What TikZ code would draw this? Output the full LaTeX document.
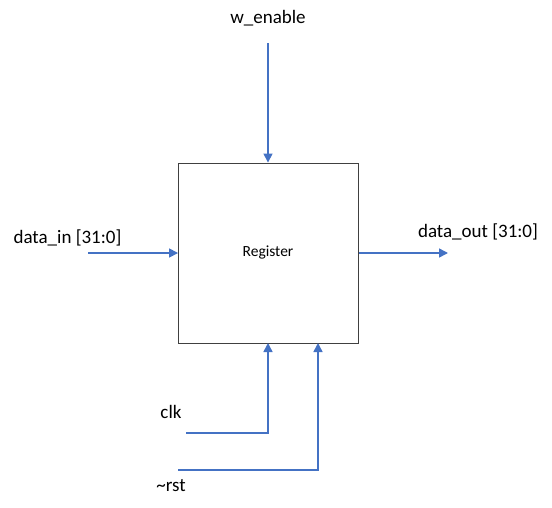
\documentclass[tikz,border=0pt]{standalone}
\usepackage{fontspec}
\setmainfont{Carlito}
\usetikzlibrary{arrows.meta}
\definecolor{wireblue}{HTML}{4472C4}
\definecolor{boxgray}{HTML}{404040}
\begin{document}
\begin{tikzpicture}[x=1pt,y=-1pt,
  wire/.style={draw=wireblue,line width=1.5pt},
  wirearrow/.style={wire,-{Triangle[width=9pt,length=9pt]}},
  lbl/.style={inner sep=0pt,font=\fontsize{19}{22}\selectfont},
  reg/.style={draw=boxgray,line width=0.9pt,minimum width=180pt,minimum height=180pt,inner sep=0pt,font=\fontsize{15.5}{18}\selectfont}]
\useasboundingbox (0,0) rectangle (552,507);
\node[reg] (R) at (268.5,253) {};
\node[inner sep=0pt,font=\fontsize{15.5}{18}\selectfont] (regtxt) at (268,252) {Register};
\node[lbl] (wen) at (268,18) {w\_enable};
\node[lbl] (din) at (67.5,238) {data\_in [31:0]};
\node[lbl] (dout) at (478,232) {data\_out [31:0]};
\node[lbl] (clk) at (171,412) {clk};
\node[lbl] (rst) at (171,486) {\textasciitilde rst};
\coordinate (wenS) at (268,43);
\coordinate (dinS) at (88,253);
\coordinate (doutE) at (448,253);
\coordinate (clkS) at (186,433);
\coordinate (rstS) at (178,470);
\draw[wirearrow] (wenS) -- (wenS |- R.north);
\draw[wirearrow] (dinS) -- (R.west |- dinS);
\draw[wirearrow] (R.east |- doutE) -- (doutE);
\draw[wirearrow] (clkS) -- (268,433) -- (268,343);
\draw[wirearrow] (rstS) -- (318,470) -- (318,343);
\end{tikzpicture}
\end{document}
